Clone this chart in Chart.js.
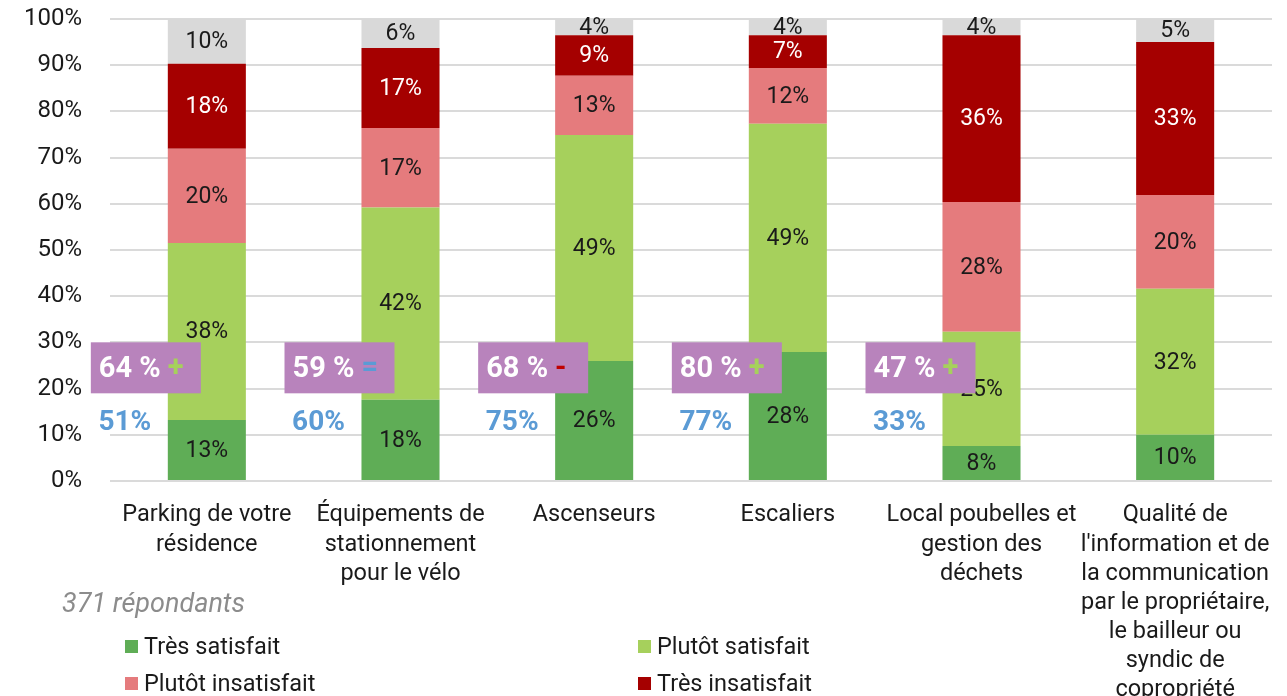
<!DOCTYPE html>
<html lang="fr">
<head>
<meta charset="utf-8">
<script src="https://cdn.jsdelivr.net/npm/chart.js@4.4.1/dist/chart.umd.min.js"></script>
<style>
    html, body { margin: 0; padding: 0; background: #fff; }
    #wrap { position: relative; width: 1287px; height: 696px; overflow: hidden; font-family: Roboto, sans-serif; }
    #note { position: absolute; left: 62px; top: 587px; font-size: 27px; font-style: italic; color: #8c8c8c; }
    .leg { position: absolute; font-size: 23.5px; color: #1a1a1a; line-height: 26px; }
    .leg span { display: inline-block; width: 13px; height: 13px; margin-right: 6px; vertical-align: 1px; }
</style>
</head>
<body>
<div id="wrap">
    <canvas id="chart" width="1287" height="696"></canvas>
    <div id="note">371 répondants</div>
    <div class="leg" style="left:125px;top:633px"><span style="background:#5fad56"></span>Très satisfait</div>
    <div class="leg" style="left:638px;top:633px"><span style="background:#a6d05c"></span>Plutôt satisfait</div>
    <div class="leg" style="left:125px;top:670px"><span style="background:#e57b7d"></span>Plutôt insatisfait</div>
    <div class="leg" style="left:638px;top:670px"><span style="background:#a50000"></span>Très insatisfait</div>
</div>
<script>
const categories = [
    ['Parking de votre', 'résidence'],
    ['Équipements de', 'stationnement', 'pour le vélo'],
    ['Ascenseurs'],
    ['Escaliers'],
    ['Local poubelles et', 'gestion des', 'déchets'],
    ['Qualité de', "l'information et de", 'la communication', 'par le propriétaire,', 'le bailleur ou', 'syndic de', 'copropriété']
];

const tresSatisfait = [13.2, 17.6, 26.0, 27.9, 7.6, 10.0];
const plutotSatisfait = [38.3, 41.6, 48.9, 49.4, 24.7, 31.6];
const plutotInsatisfait = [20.4, 17.2, 12.8, 12.1, 28.1, 20.3];
const tresInsatisfait = [18.4, 17.3, 8.8, 7.1, 36.1, 33.1];
const sansReponse = [9.7, 6.3, 3.5, 3.5, 3.5, 5.0];

// encadrés : score global, tendance, score précédent
const scoreGlobal = [64, 59, 68, 80, 47, null];
const tendance = ['+', '=', '-', '+', '+', null];
const scorePrecedent = [51, 60, 75, 77, 33, null];

const yTickStep = 10;

const FONT = 'Roboto, sans-serif';
const trendColors = {'+': '#a6d05c', '=': '#5b9bd5', '-': '#c00000'};

const barLabels = {
    id: 'barLabels',
    afterDatasetsDraw(chart) {
        const ctx = chart.ctx;
        ctx.save();
        ctx.font = '23px ' + FONT;
        ctx.textAlign = 'center';
        ctx.textBaseline = 'middle';
        chart.data.datasets.forEach((ds, di) => {
            chart.getDatasetMeta(di).data.forEach((bar, i) => {
                const p = bar.getProps(['x', 'y', 'base'], true);
                ctx.fillStyle = ds.labelColor;
                ctx.fillText(Math.round(ds.data[i]) + '%', p.x, (p.y + p.base) / 2 + 1);
            });
        });
        ctx.restore();
    }
};

const scoreBoxes = {
    id: 'scoreBoxes',
    afterDatasetsDraw(chart) {
        const ctx = chart.ctx;
        const xs = chart.scales.x, ys = chart.scales.y;
        ctx.save();
        ctx.textBaseline = 'middle';
        scoreGlobal.forEach((s, i) => {
            if (s == null) return;
            const cx = xs.getPixelForValue(i);
            const cy = ys.getPixelForValue(24.5);
            const left = cx - 116;
            ctx.fillStyle = '#b883bc';
            ctx.fillRect(left, cy - 25.5, 110, 51);
            ctx.font = 'bold 29px ' + FONT;
            ctx.textAlign = 'left';
            ctx.fillStyle = '#ffffff';
            const txt = s + ' %';
            ctx.fillText(txt, left + 8, cy + 2);
            const w = ctx.measureText(txt).width;
            ctx.fillStyle = trendColors[tendance[i]];
            ctx.fillText(tendance[i], left + 8 + w + 7, cy + 1);

            ctx.font = 'bold 28px ' + FONT;
            ctx.textAlign = 'center';
            ctx.fillStyle = '#5b9bd5';
            ctx.fillText(scorePrecedent[i] + '%', cx - 82, ys.getPixelForValue(12.6));
        });
        ctx.restore();
    }
};

function ds(label, data, color, labelColor) {
    return {label, data, backgroundColor: color, labelColor, borderWidth: 0,
        barPercentage: 0.403, categoryPercentage: 1};
}

new Chart(document.getElementById('chart'), {
    type: 'bar',
    data: {
        labels: categories,
        datasets: [
            ds('Très satisfait', tresSatisfait, '#5fad56', '#1a1a1a'),
            ds('Plutôt satisfait', plutotSatisfait, '#a6d05c', '#1a1a1a'),
            ds('Plutôt insatisfait', plutotInsatisfait, '#e57b7d', '#1a1a1a'),
            ds('Très insatisfait', tresInsatisfait, '#a50000', '#ffffff'),
            ds('Sans réponse', sansReponse, '#d9d9d9', '#1a1a1a')
        ]
    },
    options: {
        responsive: false,
        animation: false,
        layout: {padding: {top: 19, right: 15, left: 0, bottom: 0}},
        plugins: {legend: {display: false}, tooltip: {enabled: false}},
        scales: {
            x: {
                stacked: true,
                grid: {display: false, drawTicks: false},
                border: {display: false},
                ticks: {color: '#1a1a1a', font: {family: FONT, size: 23.5, lineHeight: 1.24},
                    padding: 20, maxRotation: 0, autoSkip: false},
                afterFit(scale) {
                    scale.height = 215;
                    scale.paddingLeft = 0;
                    scale.paddingRight = 0;
                }
            },
            y: {
                stacked: true,
                min: 0, max: 100,
                grid: {color: '#dadada', lineWidth: 2, drawTicks: false},
                border: {display: false},
                ticks: {stepSize: yTickStep, color: '#1a1a1a', padding: 28,
                    font: {family: FONT, size: 24}, callback: v => v + '%'},
                afterFit(scale) {
                    scale.width = 110;
                    scale.paddingTop = 0;
                    scale.paddingBottom = 0;
                }
            }
        }
    },
    plugins: [barLabels, scoreBoxes]
});
</script>
</body>
</html>
